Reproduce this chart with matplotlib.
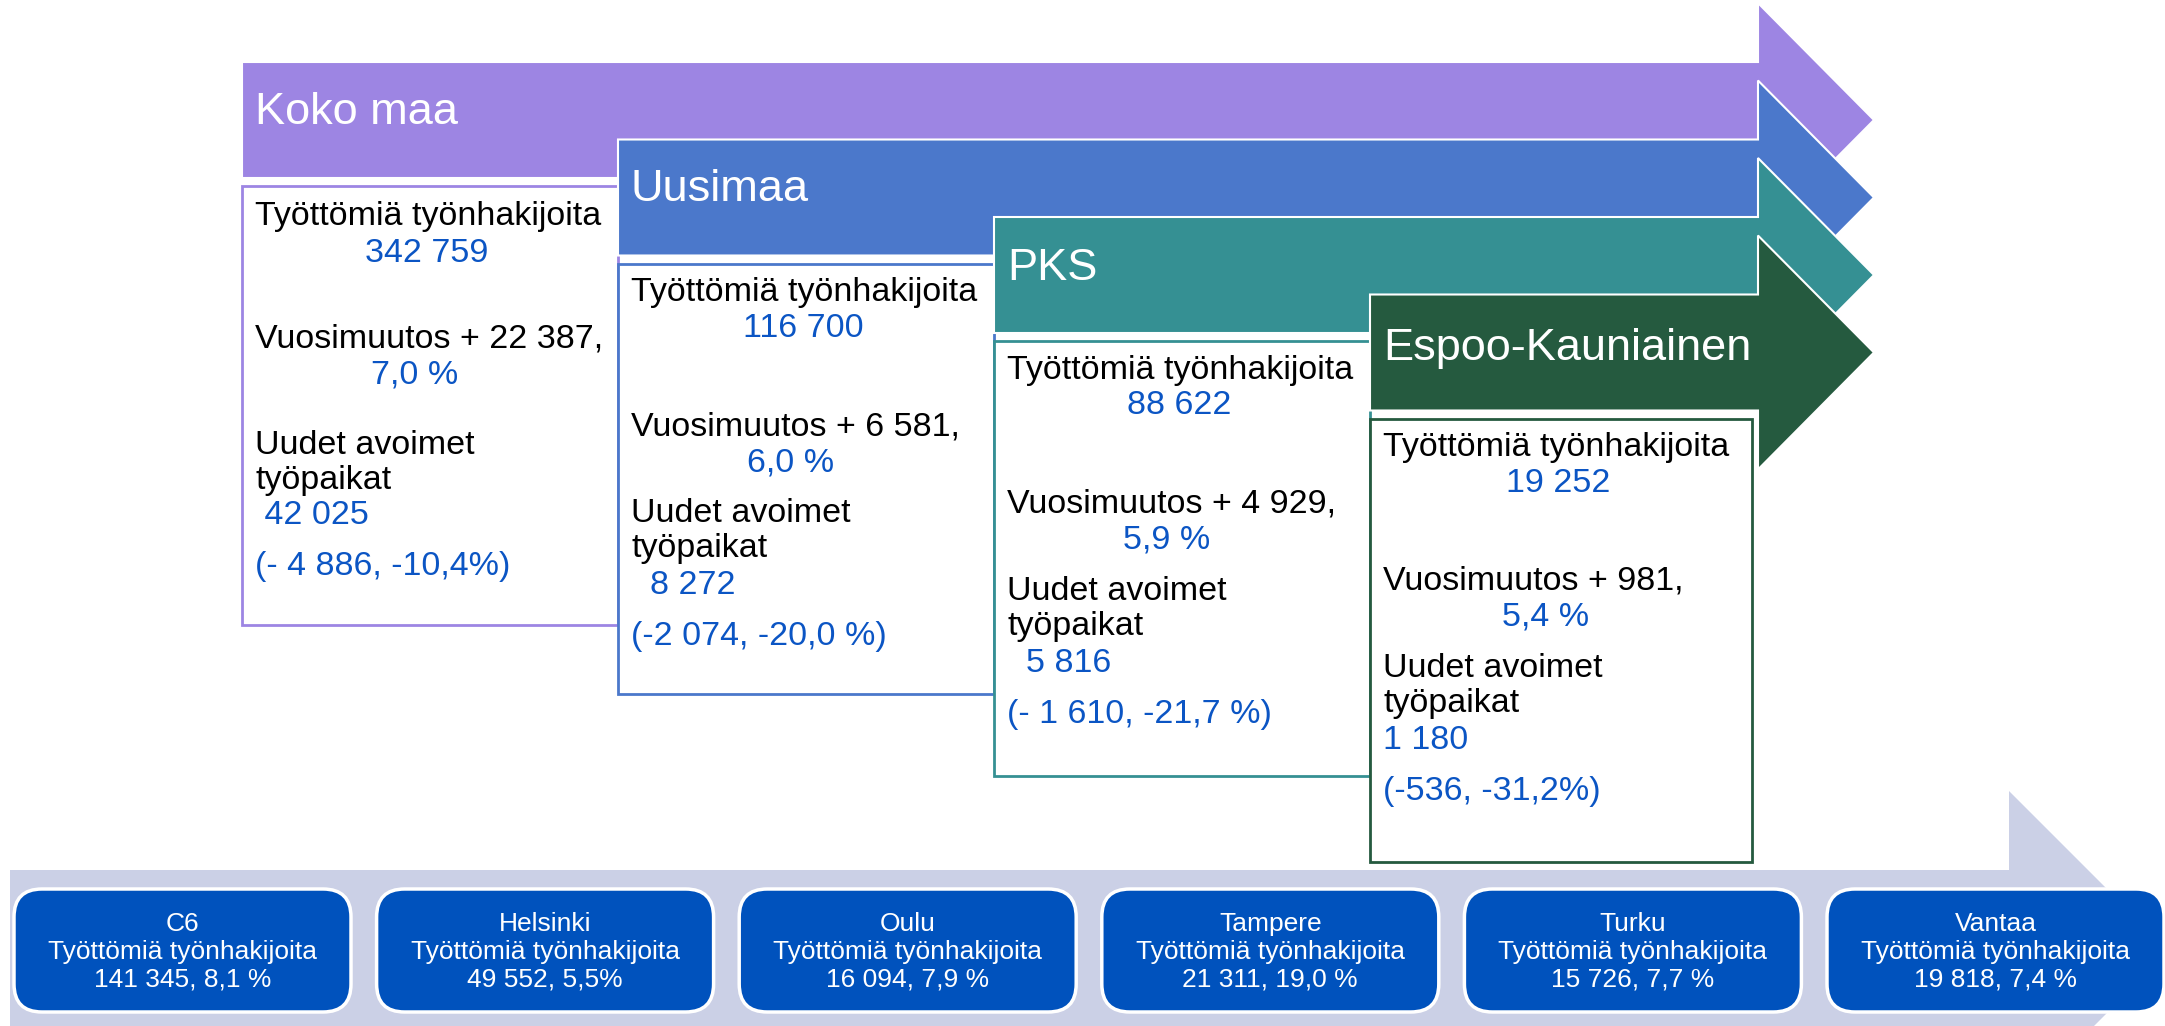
import matplotlib
matplotlib.use('Agg')
import matplotlib.pyplot as plt
from matplotlib.patches import Polygon, Rectangle, FancyBboxPatch

plt.rcParams['font.family'] = ['Liberation Sans', 'DejaVu Sans']

# Data
regions = ['Koko maa', 'Uusimaa', 'PKS', 'Espoo-Kauniainen']
job_seekers = ['342 759', '116 700', '88 622', '19 252']
yearly_change = ['22 387', '6 581', '4 929', '981']
yearly_pct = ['7,0 %', '6,0 %', '5,9 %', '5,4 %']
new_jobs = [' 42 025', '  8 272', '  5 816', '1 180']
new_jobs_change = ['(- 4 886, -10,4%)', '(-2 074, -20,0 %)', '(- 1 610, -21,7 %)', '(-536, -31,2%)']
cities = ['C6', 'Helsinki', 'Oulu', 'Tampere', 'Turku', 'Vantaa']
city_seekers = ['141 345, 8,1 %', '49 552, 5,5%', '16 094, 7,9 %', '21 311, 19,0 %', '15 726, 7,7 %', '19 818, 7,4 %']

arrow_colors = ['#9D85E3', '#4B78CB', '#359093', '#255A3F']
blue_txt = '#0B55C4'

W, H = 2165, 1026
fig = plt.figure(figsize=(W / 100, H / 100), dpi=100)
ax = fig.add_axes([0, 0, 1, 1])
ax.set_xlim(0, W)
ax.set_ylim(H, 0)
ax.axis('off')

# bottom band arrow
band = Polygon([(10, 870), (2009, 870), (2009, 791), (2169, 951),
                (2009, 1111), (2009, 1032), (10, 1032)],
               closed=True, facecolor='#CBD0E6', edgecolor='none')
ax.add_patch(band)

# stacked arrows with boxes
step_x, step_y = 376, 77.5
body_h, head_base, tip_x = 116, 1758, 1874
title_dy = [50, 50, 51, 54]
line_dy = {
    0: [31, 67, 153, 189, 259, 294, 330, 381],
}
default_dy = [29, 65, 163, 199, 250, 285, 322, 373]
box_bottoms = [625, 694, 776, 862]

for i, name in enumerate(regions):
    left = 242 + i * step_x
    top = 62 + i * step_y
    bot = top + body_h
    mid = (top + bot) / 2
    pts = [(left, top), (head_base, top), (head_base, mid - 117),
           (tip_x, mid), (head_base, mid + 117), (head_base, bot), (left, bot)]
    ax.add_patch(Polygon(pts, closed=True, facecolor=arrow_colors[i],
                         edgecolor='white', linewidth=1.5, zorder=2 + i))
    ax.text(left + 13, top + title_dy[i], name, color='white', fontsize=32.5,
            va='center', ha='left', zorder=2 + i)

    # info box
    btop = bot + 8
    bright = left + step_x if i < 3 else 1752
    ax.add_patch(Rectangle((left, btop), bright - left, box_bottoms[i] - btop,
                           facecolor='white', edgecolor=arrow_colors[i],
                           linewidth=2, zorder=2 + i))
    dy = line_dy.get(i, default_dy)
    tx = left + 13
    cx = (left + bright) / 2
    z = 3 + i
    ax.text(tx, btop + dy[0], 'Työttömiä työnhakijoita', fontsize=24.5,
            va='center', ha='left', color='black', zorder=z)
    ax.text(cx - 3, btop + dy[1], job_seekers[i], fontsize=24.5,
            va='center', ha='center', color=blue_txt, zorder=z)
    ax.text(tx, btop + dy[2], 'Vuosimuutos + ' + yearly_change[i] + ',',
            fontsize=24.5, va='center', ha='left', color='black', zorder=z)
    ax.text(cx - 15, btop + dy[3], yearly_pct[i], fontsize=24.5,
            va='center', ha='center', color=blue_txt, zorder=z)
    ax.text(tx, btop + dy[4], 'Uudet avoimet', fontsize=24.5,
            va='center', ha='left', color='black', zorder=z)
    ax.text(tx, btop + dy[5], 'työpaikat', fontsize=24.5,
            va='center', ha='left', color='black', zorder=z)
    ax.text(tx, btop + dy[6], new_jobs[i], fontsize=24.5,
            va='center', ha='left', color=blue_txt, zorder=z)
    ax.text(tx, btop + dy[7], new_jobs_change[i], fontsize=24.5,
            va='center', ha='left', color=blue_txt, zorder=z)

# city boxes
bw, bstep = 343, 362.6
for j, city in enumerate(cities):
    x0 = 11 + j * bstep
    ax.add_patch(FancyBboxPatch((x0 + 3, 889), bw - 6, 123,
                                boxstyle='round,pad=0,rounding_size=28',
                                facecolor='#0052BD', edgecolor='white',
                                linewidth=2.5, zorder=10))
    ax.text(x0 + bw / 2, 952, city + '\nTyöttömiä työnhakijoita\n' + city_seekers[j],
            color='white', fontsize=19, ha='center', va='center',
            linespacing=1.2, zorder=11)

fig.savefig('out.png', dpi=100)
